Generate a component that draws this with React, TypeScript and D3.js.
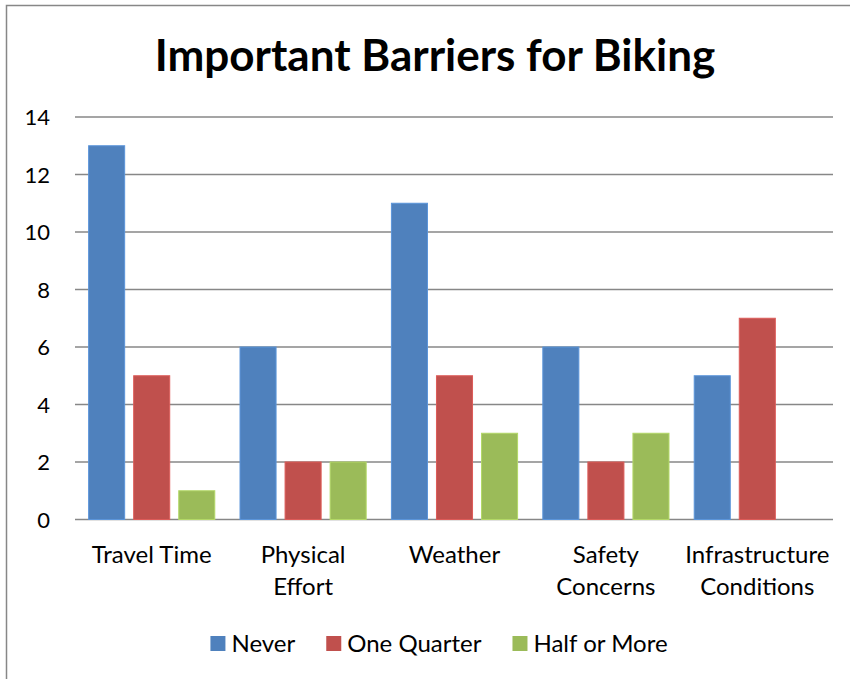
import { useRef, useEffect } from 'react';
import * as d3 from 'd3';

const categories = ['Travel Time', 'Physical Effort', 'Weather', 'Safety Concerns', 'Infrastructure Conditions'];
const categoryLines = [['Travel Time'], ['Physical', 'Effort'], ['Weather'], ['Safety', 'Concerns'], ['Infrastructure', 'Conditions']];
const seriesNames = ['Never', 'One Quarter', 'Half or More'];
const never = [13, 6, 11, 6, 5];
const oneQuarter = [5, 2, 5, 2, 7];
const halfOrMore = [1, 2, 3, 3, 0];
const yTicks = [0, 2, 4, 6, 8, 10, 12, 14];
const colors = ['#4F81BD', '#C0504D', '#9BBB59'];

const FONT = 'Lato, "Open Sans", sans-serif';

function App() {
  const ref = useRef(null);
  const width = 850;
  const height = 679;

  useEffect(() => {
    const svg = d3.select(ref.current);
    svg.selectAll('*').remove();

    const margin = { top: 117, right: 17, bottom: 159, left: 75 };
    const values = [never, oneQuarter, halfOrMore];

    // chart frame
    svg.append('rect')
      .attr('x', 6.5).attr('y', 5.5)
      .attr('width', 900).attr('height', 700)
      .attr('fill', '#fff')
      .attr('stroke', '#878787')
      .attr('stroke-width', 1.5);

    svg.append('text')
      .attr('x', 435).attr('y', 71)
      .attr('text-anchor', 'middle')
      .style('font-family', FONT)
      .style('font-weight', 700)
      .style('font-size', '44px')
      .text('Important Barriers for Biking');

    const x0 = d3.scaleBand()
      .domain(categories)
      .range([margin.left + 1, width - margin.right]);

    const x1 = d3.scaleBand()
      .domain(seriesNames)
      .range([0, x0.bandwidth()])
      .paddingInner(0.2)
      .paddingOuter(0.28);

    const y = d3.scaleLinear()
      .domain([0, 14])
      .range([height - margin.bottom - 0.5, margin.top]);

    // gridlines
    svg.append('g')
      .selectAll('line')
      .data(yTicks)
      .join('line')
      .attr('x1', margin.left)
      .attr('x2', width - margin.right)
      .attr('y1', d => y(d))
      .attr('y2', d => y(d))
      .attr('stroke', '#878787')
      .attr('stroke-width', 1.3);

    svg.append('g')
      .selectAll('text')
      .data(yTicks)
      .join('text')
      .attr('x', 50)
      .attr('y', d => y(d) + 8)
      .attr('text-anchor', 'end')
      .style('font-family', FONT)
      .style('font-size', '22px')
      .attr('fill', '#000')
      .text(d => d);

    // bars
    const groups = svg.append('g')
      .selectAll('g')
      .data(categories)
      .join('g')
      .attr('transform', d => `translate(${x0(d)},0)`);

    groups.selectAll('rect')
      .data((d, i) => seriesNames.map((s, j) => ({ s, j, v: values[j][i] })))
      .join('rect')
      .filter(d => d.v > 0)
      .attr('x', d => x1(d.s))
      .attr('width', x1.bandwidth())
      .attr('y', d => y(d.v))
      .attr('height', d => y(0) - y(d.v))
      .attr('fill', d => colors[d.j])
      .attr('stroke', d => d3.color(colors[d.j]).brighter(0.4))
      .attr('stroke-width', 1);

    // category labels
    const labels = svg.append('g')
      .selectAll('text')
      .data(categories)
      .join('text')
      .attr('text-anchor', 'middle')
      .style('font-family', FONT)
      .style('font-size', '24px')
      .attr('fill', '#000');

    labels.selectAll('tspan')
      .data((d, i) => categoryLines[i])
      .join('tspan')
      .attr('x', function () {
        const c = d3.select(this.parentNode).datum();
        return x0(c) + x0.bandwidth() / 2;
      })
      .attr('y', (d, i) => 563 + i * 32)
      .text(d => d);

    // legend
    const legend = svg.append('g');
    const items = legend.selectAll('g')
      .data(seriesNames)
      .join('g');
    items.append('rect')
      .attr('width', 15).attr('height', 15)
      .attr('y', 636)
      .attr('fill', (d, i) => colors[i]);
    items.append('text')
      .attr('x', 21)
      .attr('y', 652)
      .style('font-family', FONT)
      .style('font-size', '24px')
      .text(d => d);

    let offset = 0;
    const widths = [];
    items.each(function () {
      const w = d3.select(this).select('text').node().getComputedTextLength();
      widths.push(w);
    });
    const total = d3.sum(widths, w => 15 + 6 + w) + 31 * (widths.length - 1);
    const start = 439 - total / 2;
    items.attr('transform', (d, i) => {
      const tx = start + offset;
      offset += 15 + 6 + widths[i] + 31;
      return `translate(${tx},0)`;
    });
  }, []);

  return (
    <div style={{ position: 'absolute', left: 0, top: 0 }}>
      <svg ref={ref} width={width} height={height} style={{ display: 'block' }}></svg>
    </div>
  );
}

export default App;
